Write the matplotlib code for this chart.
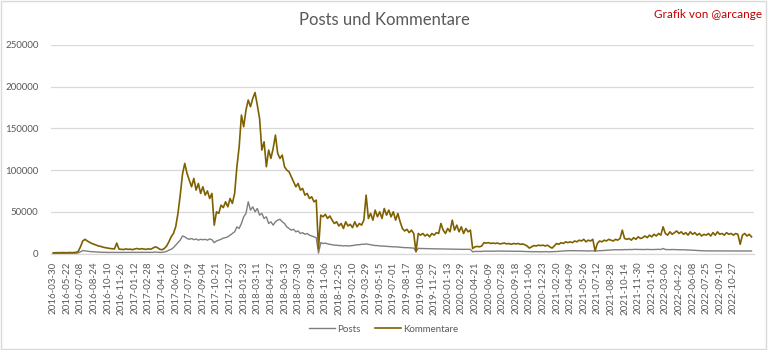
import matplotlib
matplotlib.use("Agg")
import matplotlib.pyplot as plt
import numpy as np
from matplotlib.patches import Rectangle

plt.rcParams['font.family'] = ['Lato', 'DejaVu Sans']

tick_labels = [
    "2016-03-30", "2016-05-22", "2016-07-08", "2016-08-24", "2016-10-10", "2016-11-26",
    "2017-01-12", "2017-02-28", "2017-04-16", "2017-06-02", "2017-07-19", "2017-09-04",
    "2017-10-21", "2017-12-07", "2018-01-23", "2018-03-11", "2018-04-27", "2018-06-13",
    "2018-07-30", "2018-09-18", "2018-11-06", "2018-12-25", "2019-02-10", "2019-03-29",
    "2019-05-15", "2019-07-01", "2019-08-17", "2019-10-08", "2019-11-27", "2020-01-13",
    "2020-02-29", "2020-04-21", "2020-06-09", "2020-07-28", "2020-09-18", "2020-11-06",
    "2020-12-23", "2021-02-20", "2021-04-09", "2021-05-26", "2021-07-12", "2021-08-28",
    "2021-10-14", "2021-11-30", "2022-01-16", "2022-03-06", "2022-04-22", "2022-06-08",
    "2022-07-25", "2022-09-10", "2022-10-27",
]
days_per_label = 47
samples_per_label = 6

# Kommentare (thousands), sampled ~every 7.8 days
kommentare_k = [
    0.8, 0.9, 1.0, 0.9, 1.1, 1.0, 0.9, 1.2, 1.0, 1.1, 1.3, 2.5,
    8, 15, 17, 15, 13.5, 12, 11, 10, 9, 8.5, 7.5, 7, 6.5, 6, 5.8, 5.5,
    12.5, 5.2, 5, 4.8, 5.5, 5, 5.2, 4.6, 5.5, 6, 5.2, 5.8, 5.3, 5, 5.6, 5.1,
    6.5, 8, 7, 5, 4.5, 6, 9, 14, 20, 24, 32, 48, 70, 95, 108, 96, 88, 80,
    90, 76, 84, 72, 80, 70, 75, 66, 72, 34, 50, 48, 58, 55, 62, 56, 66, 60,
    72, 104, 128, 166, 152, 172, 184, 176, 186, 193, 178, 162, 124, 134, 104,
    124, 114, 126, 142, 120, 114, 118, 104, 100, 98, 92, 86, 80, 84, 76, 78,
    70, 72, 66, 68, 62, 64, 6, 46, 44, 47, 42, 45, 40, 36, 38, 33, 36, 30,
    38, 33, 35, 31, 38, 32, 36, 34, 40, 70, 42, 48, 40, 52, 44, 50, 42, 54,
    46, 52, 44, 50, 40, 48, 38, 30, 27, 29, 25, 28, 24, 2, 24, 22, 24, 21,
    23, 20, 24, 22, 25, 24, 36, 28, 24, 30, 26, 40, 28, 34, 26, 32, 24, 30,
    26, 28, 6, 8, 8.5, 8, 9, 13, 12.5, 13, 12, 12.5, 12, 12.5, 11.5, 12, 12.5,
    11.5, 12, 11, 12, 11.5, 12, 11, 11.5, 10.5, 9, 6.5, 8, 9.5, 9, 10, 9.5,
    10, 9, 10, 8, 6.5, 9, 12, 11, 13, 12, 14, 13, 14, 13, 15, 14, 16, 15, 17,
    14, 16, 15, 17, 3, 12, 15, 14, 16, 15, 17, 16, 15, 17, 16, 18, 28, 18, 17,
    18, 16, 19, 17, 20, 18, 19, 21, 19, 22, 20, 23, 21, 24, 22, 32, 24, 22,
    26, 23, 25, 27, 24, 26, 23, 25, 22, 26, 23, 25, 22, 24, 21, 23, 22, 24,
    21, 25, 22, 26, 23, 24, 22, 25, 23, 24, 22, 24, 23, 11, 22, 24, 21, 23, 20,
]

# Posts (thousands), same sampling
posts_k = [
    0.3, 0.3, 0.3, 0.3, 0.3, 0.3, 0.3, 0.3, 0.3, 0.3, 0.4, 0.8,
    2, 3.5, 3.2, 2.8, 2.4, 2.2, 2, 1.8, 1.6, 1.5, 1.4, 1.4, 1.3, 1.3, 1.2, 1.3,
    1.4, 1.2, 1.2, 1.3, 1.2, 1.2, 1.3, 1.2, 1.3, 1.4, 1.3, 1.3, 1.2, 1.2, 1.3, 1.2,
    1.4, 1.8, 1.6, 1.3, 1.4, 1.8, 2.5, 4, 5, 7, 10, 13, 16, 21, 20, 18,
    17, 18, 16.5, 17.5, 16, 17, 16.5, 17, 16, 17.5, 16.5, 13, 15, 16, 17, 18.5,
    19, 20, 22, 24, 26, 32, 30, 36, 44, 48, 62, 52, 56, 50, 54, 46, 48, 42, 44,
    36, 38, 34, 38, 40, 41, 38, 36, 32, 30, 28, 29, 26, 27, 24, 25, 23, 24, 22,
    21, 20, 19, 0.5, 13, 12, 12.5, 11.5, 11, 10.5, 10, 10, 9.5, 9.5, 9, 9.5, 9,
    9.2, 9.5, 10, 10.5, 10.5, 11, 11, 11.5, 11, 10.5, 10, 9.5, 9.5, 9, 9, 8.8,
    8.5, 8.5, 8.2, 8, 8, 7.8, 7.5, 7.2, 7, 7, 6.8, 6.6, 6.5, 2.5, 6.2, 6, 6,
    5.9, 5.8, 5.8, 5.7, 5.6, 5.6, 5.5, 5.5, 5.4, 5.4, 5.3, 5.3, 5.2, 5.2, 5.1,
    5.1, 5, 5, 5, 5, 5, 2, 2.5, 2.5, 2.6, 2.5, 2.8, 2.8, 2.9, 2.8, 2.9, 2.8,
    3, 2.9, 2.8, 2.9, 2.8, 2.7, 2.8, 2.7, 2.6, 2.7, 2.6, 2.5, 2.4, 2.2, 2.1, 2,
    2.1, 2.2, 2.1, 2, 2.1, 2.2, 2.1, 2, 2.1, 2.2, 2.4, 2.6, 2.8, 3, 3.2, 3.4,
    3.4, 3.5, 3.4, 3.5, 3.3, 3.2, 3.0, 3.1, 3.0, 3.2, 3.1, 3.0, 3.1,
    3.3, 3.5, 3.8, 4.0, 4.2, 4.3, 4.4, 4.5,
    4.4, 4.6, 4.5, 4.7, 4.6, 4.8, 4.7, 4.9, 5.0, 4.8, 4.9, 4.7, 4.8, 4.9, 4.8,
    4.7, 4.8, 4.9, 5.0, 4.8, 6,
    4.8, 4.7, 4.6, 4.8, 4.7, 4.5, 4.6, 4.4, 4.5, 4.3, 4.2, 4.1, 4.0, 3.8, 3.6, 3.4,
    3.3, 3.2, 3.2, 3.1, 3.1, 3.2, 3.1, 3.0, 3.1, 3.0, 3.0, 3.1, 3.0, 3.0, 3.0,
    3.1, 3.0, 3.0, 3.0, 3.1, 3.0, 3.0, 3.0,
]

kommentare = np.array(kommentare_k) * 1000
posts = np.array(posts_k) * 1000
step = days_per_label / samples_per_label
xk = np.arange(len(kommentare)) * step
xp = np.arange(len(posts)) * step

fig = plt.figure(figsize=(7.68, 3.5), dpi=100)
ax = fig.add_axes([51 / 768, 1 - 253.5 / 350, (754 - 51) / 768, (253.5 - 45) / 350])

grid_c = '#d9d9d9'
text_c = '#595959'
ax.plot(xp, posts, color='#7f7f7f', lw=1.0, label='Posts', zorder=3)
ax.plot(xk, kommentare, color='#7f6000', lw=1.2, label='Kommentare', zorder=4)

ax.set_ylim(0, 250000)
ax.set_yticks(np.arange(0, 250001, 50000))
ax.set_yticklabels([f"{v:d}" for v in range(0, 250001, 50000)])
ax.set_xlim(-1.0 * step, 309.1 * step)
ax.set_xticks(np.arange(len(tick_labels)) * days_per_label)
ax.set_xticklabels(tick_labels, rotation=90)

ax.grid(axis='y', color=grid_c, lw=0.9)
ax.set_axisbelow(True)
for s in ['top', 'right', 'left']:
    ax.spines[s].set_visible(False)
ax.spines['bottom'].set_color(grid_c)
ax.spines['bottom'].set_linewidth(0.9)
ax.tick_params(axis='both', length=0, colors=text_c, labelsize=7)
ax.tick_params(axis='y', pad=9)
ax.tick_params(axis='x', pad=6)

fig.text(0.5, 1 - 20 / 350, "Posts und Kommentare", ha='center', va='center',
         fontsize=12, color=text_c)
fig.text(762 / 768, 1 - 15 / 350, "Grafik von @arcange", ha='right', va='center',
         fontsize=8.5, color='#c00000')

fig.legend(loc='center', bbox_to_anchor=(0.5, 1 - 329 / 350), ncol=2, frameon=False,
           fontsize=7, labelcolor=text_c, handlelength=2.6, columnspacing=1.5,
           handletextpad=0.3)

fig.patches.append(Rectangle((0.001, 0.002), 0.997, 0.995, transform=fig.transFigure,
                             fill=False, edgecolor='#d9d9d9', lw=1))

fig.savefig("out.png", dpi=100)
